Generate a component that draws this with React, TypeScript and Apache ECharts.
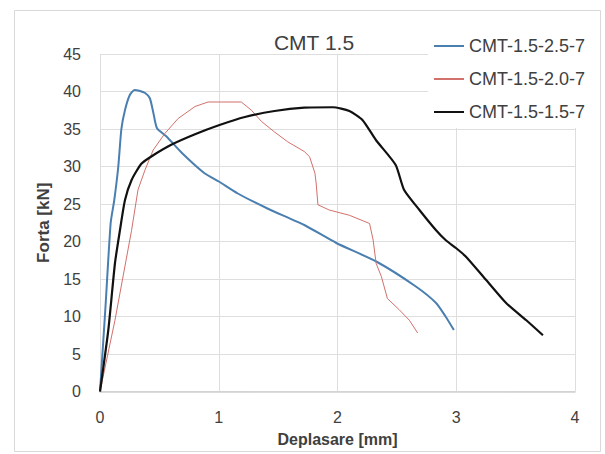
import React, { useEffect, useRef } from "react";
import * as echarts from "echarts";

const title = "CMT 1.5";
const xAxisName = "Deplasare [mm]";
const yAxisName = "Forta [kN]";
const seriesNames = ["CMT-1.5-2.5-7", "CMT-1.5-2.0-7", "CMT-1.5-1.5-7"];
const seriesColors = ["#4a7fb0", "#d2706c", "#111111"];

const blueX = [0, 0.045, 0.09, 0.12, 0.154, 0.18, 0.21, 0.25, 0.29, 0.33, 0.38, 0.42, 0.45, 0.48, 0.56, 0.69, 0.88, 1.0, 1.16, 1.41, 1.72, 1.99, 2.33, 2.66, 2.83, 2.91, 2.98];
const blueY = [0, 11, 22.5, 25.5, 30, 35, 37.5, 39.5, 40.2, 40.1, 39.8, 39.1, 37.1, 35.1, 34.0, 31.8, 29.1, 28.0, 26.4, 24.4, 22.2, 19.8, 17.3, 14.0, 11.8, 10.0, 8.2];

const redX = [0, 0.126, 0.266, 0.32, 0.378, 0.448, 0.546, 0.658, 0.8, 0.91, 1.19, 1.275, 1.36, 1.47, 1.58, 1.72, 1.765, 1.81, 1.82, 1.835, 1.93, 2.1, 2.27, 2.3, 2.325, 2.37, 2.42, 2.52, 2.605, 2.675];
const redY = [0, 9.5, 21.5, 26.9, 29.5, 32.2, 34.4, 36.4, 38.0, 38.6, 38.6, 37.5, 36.0, 34.6, 33.3, 32.0, 31.3, 29.1, 27.8, 24.9, 24.2, 23.5, 22.4, 20.2, 17.1, 15.3, 12.4, 10.9, 9.5, 7.8];

const blackX = [0, 0.07, 0.126, 0.168, 0.21, 0.266, 0.35, 0.448, 0.6, 0.8, 1.0, 1.22, 1.47, 1.72, 1.96, 2.1, 2.21, 2.325, 2.49, 2.56, 2.69, 2.83, 2.91, 3.0, 3.08, 3.25, 3.42, 3.59, 3.73];
const blackY = [0, 8.2, 17.1, 21.5, 25.5, 28.2, 30.4, 31.5, 32.9, 34.3, 35.5, 36.6, 37.4, 37.85, 37.9, 37.4, 36.2, 33.5, 30.2, 26.9, 24.2, 21.5, 20.2, 19.1, 18.0, 14.9, 11.8, 9.5, 7.5];

const zip = (xs: number[], ys: number[]) => xs.map((x, i) => [x, ys[i]]);

const FONT = "Liberation Sans";

export default function App() {
  const ref = useRef<HTMLDivElement>(null);
  useEffect(() => {
    if (!ref.current) return;
    const chart = echarts.init(ref.current, null, { renderer: "svg" });
    const data = [zip(blueX, blueY), zip(redX, redY), zip(blackX, blackY)];
    const widths = [2, 1, 2.2];
    chart.setOption({
      animation: false,
      backgroundColor: "#ffffff",
      textStyle: { fontFamily: FONT },
      title: {
        text: title,
        left: 309,
        top: 27,
        textAlign: "center",
        textStyle: { fontFamily: FONT, fontSize: 21, fontWeight: "normal", color: "#404040" },
      },
      graphic: [
        {
          type: "rect",
          shape: { x: 14.5, y: 10.5, width: 586, height: 441 },
          style: { fill: "none", stroke: "#d9d9d9", lineWidth: 1 },
          silent: true,
          z: -1,
        },
      ],
      legend: {
        orient: "vertical",
        left: 428,
        top: 26,
        padding: [10, 12, 6, 5],
        backgroundColor: "#ffffff",
        itemWidth: 30,
        itemHeight: 14,
        itemGap: 13,
        itemStyle: { opacity: 0 },
        textStyle: { fontFamily: FONT, fontSize: 18, color: "#404040", lineHeight: 20 },
        data: seriesNames,
        z: 10,
      },
      grid: { left: 100, right: 30, top: 54, bottom: 62.5, containLabel: false },
      xAxis: {
        type: "value",
        min: 0,
        max: 4,
        interval: 1,
        name: xAxisName,
        nameLocation: "middle",
        nameGap: 40,
        nameTextStyle: { fontFamily: FONT, fontSize: 16, fontWeight: "bold", color: "#404040" },
        axisLine: { show: true, lineStyle: { color: "#d0d0d0", width: 1.5 } },
        axisTick: { show: false },
        axisLabel: { margin: 18, fontFamily: FONT, fontSize: 16, color: "#404040" },
        splitLine: { show: true, lineStyle: { color: "#dedede", width: 1 } },
      },
      yAxis: {
        type: "value",
        min: 0,
        max: 45,
        interval: 5,
        name: yAxisName,
        nameLocation: "middle",
        nameGap: 47,
        nameTextStyle: { fontFamily: FONT, fontSize: 17, fontWeight: "bold", color: "#404040" },
        axisLine: { show: false },
        axisTick: { show: false },
        axisLabel: { margin: 19, fontFamily: FONT, fontSize: 16, color: "#404040" },
        splitLine: { show: true, lineStyle: { color: "#dedede", width: 1 } },
      },
      series: seriesNames.map((name, i) => ({
        name,
        type: "line",
        data: data[i],
        symbol: "none",
        showSymbol: false,
        smooth: i === 1 ? false : 0.2,
        color: seriesColors[i],
        lineStyle: { color: seriesColors[i], width: widths[i] },
        z: i === 2 ? 3 : 2,
      })),
    });
    return () => chart.dispose();
  }, []);
  return (
    <div
      ref={ref}
      style={{ position: "fixed", left: 0, top: 0, width: 605, height: 454 }}
    />
  );
}
